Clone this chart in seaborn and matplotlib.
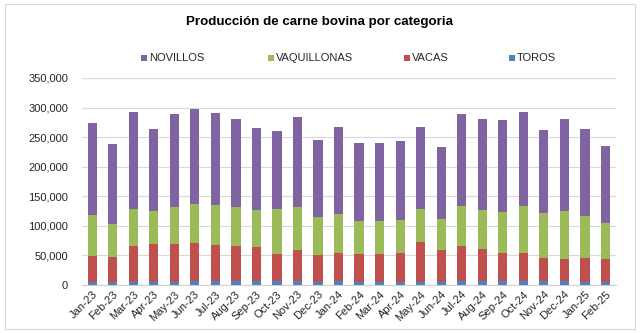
import matplotlib
matplotlib.use("Agg")
import matplotlib.pyplot as plt
import seaborn as sns
import pandas as pd
import numpy as np
from matplotlib.patches import Rectangle

months = ["Jan-23","Feb-23","Mar-23","Apr-23","May-23","Jun-23","Jul-23","Aug-23","Sep-23","Oct-23","Nov-23","Dec-23",
          "Jan-24","Feb-24","Mar-24","Apr-24","May-24","Jun-24","Jul-24","Aug-24","Sep-24","Oct-24","Nov-24","Dec-24",
          "Jan-25","Feb-25"]
toros = [5000,5000,5500,5000,5500,6000,6000,7000,7500,6000,7000,5500,6000,
         5500,5500,5500,5500,5500,7000,7000,7000,7000,6000,6000,5500,5500]
vacas = [44500,42300,60400,64800,63200,64900,61600,58300,56100,46900,52100,45700,47500,
         46300,46900,49100,67100,53100,59400,54400,47600,46500,39000,37900,40100,37900]
vaquillonas = [68200,55700,62500,55800,63000,65900,67000,66400,62500,74900,72100,63100,65900,
               56900,55100,55700,55800,53400,67000,65300,69300,79900,76000,81100,70400,60800]
novillos = [155300,135700,164400,137900,157100,160500,155900,148100,139600,131700,152600,130600,148000,
            130600,132900,132900,139000,120500,156000,153100,154800,158800,140800,155400,148000,130000]

series = [("TOROS", toros, "#4F81BD"), ("VACAS", vacas, "#C0504D"),
          ("VAQUILLONAS", vaquillonas, "#9BBB59"), ("NOVILLOS", novillos, "#8064A2")]

sns.set_theme(style="white")
plt.rcParams['font.family'] = ['Liberation Sans', 'DejaVu Sans']

fig = plt.figure(figsize=(6.4, 3.33), dpi=100)
ax = fig.add_axes([0.128, 0.144, 0.834, 0.622])

# Stacked bars: draw cumulative totals, largest first so the lower segments overlay
cum = []
b = np.zeros(len(months))
for name, vals, color in series:
    b = b + np.array(vals)
    cum.append((name, b.copy(), color))
for name, vals, color in reversed(cum):
    df = pd.DataFrame({"mes": months, "val": vals})
    sns.barplot(data=df, x="mes", y="val", color=color, width=0.45, ax=ax,
                saturation=1, linewidth=0, errorbar=None, zorder=3)

ax.set_ylim(0, 350000)
ax.set_xlim(-0.5, len(months) - 0.5)
ax.set_yticks(np.arange(0, 350001, 50000))
ax.set_yticklabels([f"{int(v):,}" for v in np.arange(0, 350001, 50000)], fontsize=8, color="#262626")
ax.yaxis.grid(True, color="#D9D9D9", linewidth=0.8, zorder=0)
ax.set_axisbelow(True)
for s in ["top", "right", "left"]:
    ax.spines[s].set_visible(False)
ax.spines["bottom"].set_color("#D0D0D0")
ax.spines["bottom"].set_linewidth(0.8)
ax.spines["bottom"].set_zorder(1)
ax.tick_params(axis="y", length=0, pad=10)
ax.tick_params(axis="x", length=0, pad=3)
ax.set_xlabel("")
ax.set_ylabel("")
plt.setp(ax.get_xticklabels(), rotation=45, ha="right", rotation_mode="anchor", fontsize=8, color="#262626")

fig.text(0.5, 0.933, "Producción de carne bovina por categoria", ha="center", va="center",
         fontsize=9.6, fontweight="bold", color="#000000")

legend_items = [("NOVILLOS", "#8064A2", 0.233), ("VAQUILLONAS", "#9BBB59", 0.431),
                ("VACAS", "#C0504D", 0.644), ("TOROS", "#4F81BD", 0.808)]
for name, color, xpos in legend_items:
    fig.patches.append(Rectangle((xpos - 0.012, 0.818), 0.009, 0.018, transform=fig.transFigure,
                                 facecolor=color, edgecolor="none"))
    fig.text(xpos, 0.827, name, ha="left", va="center", fontsize=8, color="#262626")

fig.patches.append(Rectangle((0.008, 0.012), 0.984, 0.976, transform=fig.transFigure,
                             facecolor="none", edgecolor="#D9D9D9", linewidth=0.8))

fig.savefig("out.png", dpi=100)
